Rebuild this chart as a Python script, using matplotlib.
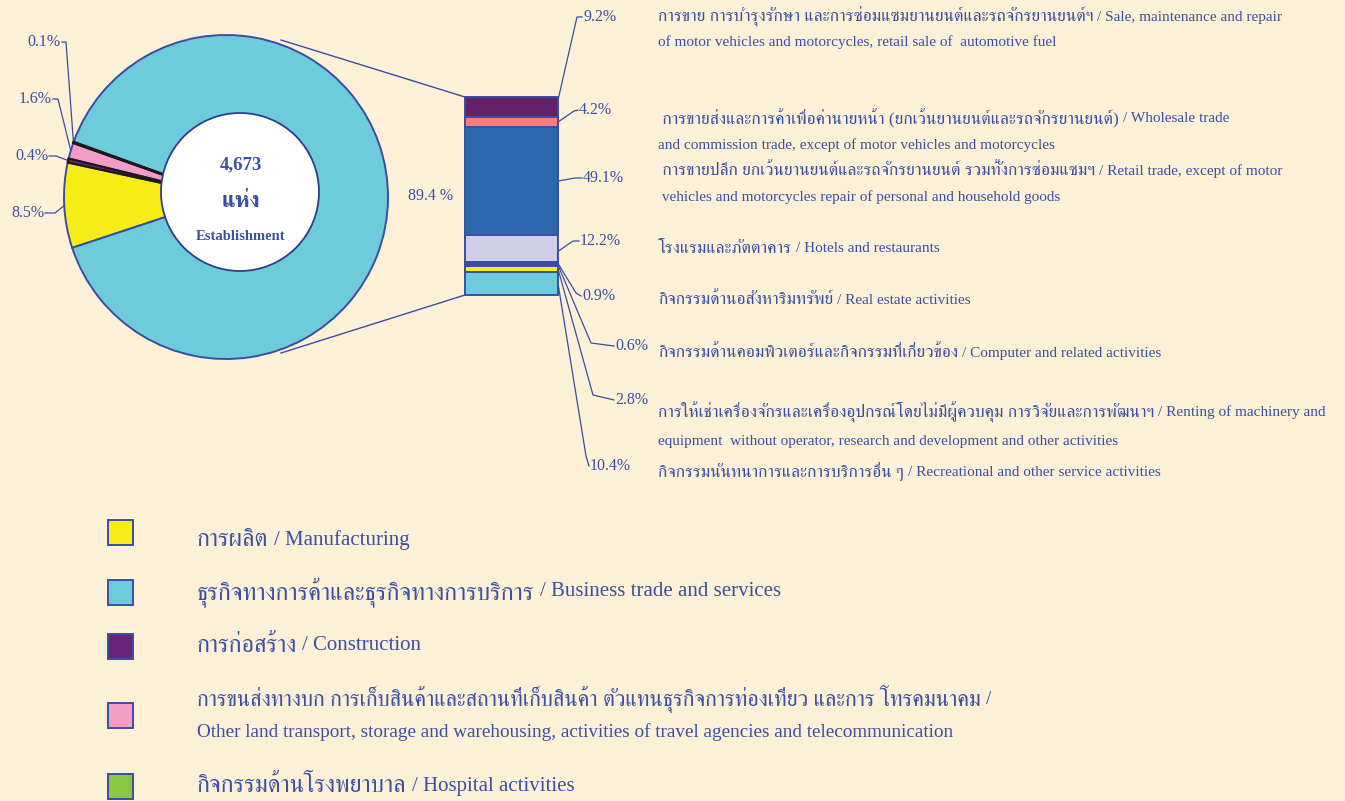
import matplotlib
matplotlib.use("Agg")
import numpy as np
import matplotlib.pyplot as plt
from matplotlib import font_manager
from matplotlib.ft2font import FT2Font
from matplotlib.patches import Circle, Rectangle

# ---- data ----
pie_labels = ["การผลิต / Manufacturing",
              "การก่อสร้าง / Construction",
              "การขนส่งทางบก / Transport",
              "กิจกรรมด้านโรงพยาบาล / Hospital activities",
              "ธุรกิจทางการค้าและธุรกิจทางการบริการ / Business trade and services"]
pie_values = [8.5, 0.4, 1.6, 0.1, 89.4]
pie_texts = ["8.5%", "0.4%", "1.6%", "0.1%", None]
pie_colors = ["#f6ec16", "#6a2379", "#f29cc6", "#8cc63f", "#6dcbdc"]

total_establishment = "4,673"

bar_values = [9.2, 4.2, 49.1, 12.2, 0.9, 0.6, 2.8, 10.4]
bar_texts = ["9.2%", "4.2%", "49.1%", "12.2%", "0.9%", "0.6%", "2.8%", "10.4%"]
bar_colors = ["#65206a", "#f37f80", "#2c68b0", "#d0cde7", "#231f20", "#30418f",
              "#f6ec16", "#6dcbdc"]
bar_total_text = "89.4 %"

bar_names = [
    ["การขาย การบำรุงรักษา และการซ่อมแซมยานยนต์และรถจักรยานยนต์ฯ / Sale, maintenance and repair",
     "of motor vehicles and motorcycles, retail sale of  automotive fuel"],
    [" การขายส่งและการค้าเพื่อค่านายหน้า (ยกเว้นยานยนต์และรถจักรยานยนต์) / Wholesale trade",
     "and commission trade, except of motor vehicles and motorcycles"],
    [" การขายปลีก ยกเว้นยานยนต์และรถจักรยานยนต์ รวมทั้งการซ่อมแซมฯ / Retail trade, except of motor",
     " vehicles and motorcycles repair of personal and household goods"],
    ["โรงแรมและภัตตาคาร / Hotels and restaurants"],
    ["กิจกรรมด้านอสังหาริมทรัพย์ / Real estate activities"],
    ["กิจกรรมด้านคอมพิวเตอร์และกิจกรรมที่เกี่ยวข้อง / Computer and related activities"],
    ["การให้เช่าเครื่องจักรและเครื่องอุปกรณ์โดยไม่มีผู้ควบคุม การวิจัยและการพัฒนาฯ / Renting of machinery and",
     "equipment  without operator, research and development and other activities"],
    ["กิจกรรมนันทนาการและการบริการอื่น ๆ / Recreational and other service activities"],
]

legend_names = [
    ["การผลิต / Manufacturing"],
    ["ธุรกิจทางการค้าและธุรกิจทางการบริการ / Business trade and services"],
    ["การก่อสร้าง / Construction"],
    ["การขนส่งทางบก การเก็บสินค้าและสถานที่เก็บสินค้า ตัวแทนธุรกิจการท่องเที่ยว และการ โทรคมนาคม /",
     "Other land transport, storage and warehousing, activities of travel agencies and telecommunication"],
    ["กิจกรรมด้านโรงพยาบาล / Hospital activities"],
]
legend_colors = ["#f6ec16", "#6dcbdc", "#6a2379", "#f29cc6", "#8cc63f"]


# find a font that can draw Thai
def find_thai_font():
    found = []
    for f in font_manager.fontManager.ttflist:
        try:
            if 0x0E01 in FT2Font(f.fname).get_charmap():
                found.append(f.name)
        except Exception:
            pass
    for pref in ("Serif", "Thai", ""):
        for n in found:
            if pref in n:
                return n
    return None

thai = find_thai_font()
fams = ["Liberation Serif"] + ([thai] if thai else []) + ["DejaVu Sans"]
plt.rcParams["font.family"] = fams

TXT = "#3c4fa6"
EDGE = "#3b4da3"
BG = "#fcf0d6"

fig = plt.figure(figsize=(13.45, 8.01), dpi=100, facecolor=BG)
ax = fig.add_axes([0, 0, 1, 1])
ax.set_facecolor(BG)
ax.set_xlim(0, 1345)
ax.set_ylim(801, 0)
renderer = fig.canvas.get_renderer()


def has_thai(s):
    return any("\u0e00" <= ch <= "\u0e7f" for ch in s)


# Thai part drawn bigger than the English part, like the original
def mixed_text(x, y, s, th_size, en_size):
    if not has_thai(s):
        ax.text(x, y, s, ha="left", va="center", fontsize=en_size, color=TXT)
        return
    if " / " in s:
        th, en = s.split(" / ", 1)
        en = "/ " + en
    elif s.endswith(" /"):
        th, en = s[:-2], "/"
    else:
        th, en = s, ""
    t = ax.text(x, y, th, ha="left", va="center", fontsize=th_size, color=TXT)
    if en:
        bb = t.get_window_extent(renderer)
        ax.text(x + bb.width + en_size * 0.35, y, en, ha="left", va="center",
                fontsize=en_size, color=TXT)


# ---- pie (y axis inverted, so angles run the other way) ----
cx, cy, R = 226, 197, 162
wedges, _ = ax.pie(pie_values, colors=pie_colors, startangle=161.7, counterclock=True,
                   center=(cx, cy), radius=R,
                   wedgeprops=dict(edgecolor=EDGE, linewidth=1.4))
wedges[1].set_edgecolor("#1a1a1a")
wedges[3].set_edgecolor("#1a1a1a")
wedges[1].set_linewidth(1.6)
wedges[3].set_linewidth(1.8)
wedges[1].set_zorder(3)
wedges[3].set_zorder(3)

ax.add_patch(Circle((240, 192), 79, facecolor="white", edgecolor="#2e3c8c", lw=1.3, zorder=4))
ax.text(241, 165, total_establishment, ha="center", va="center", fontsize=13.5,
        fontweight="bold", color=TXT, zorder=5)
ax.text(241, 202, "แห่ง", ha="center", va="center", fontsize=16,
        fontweight="bold", color=TXT, zorder=5)
ax.text(241, 236, "Establishment", ha="center", va="center", fontsize=10.5,
        fontweight="bold", color=TXT, zorder=5)

# pie percent labels with leader lines
pie_lab_pos = {0: (44, 213), 1: (48, 156), 2: (52, 99), 3: (61, 42)}
pie_hook = {0: 55, 1: 56, 2: 58, 3: 66}
for i, w in enumerate(wedges):
    if pie_texts[i] is None:
        continue
    ang = np.deg2rad((w.theta1 + w.theta2) / 2)
    ex, ey = cx + R * np.cos(ang), cy + R * np.sin(ang)
    tx, ty = pie_lab_pos[i]
    ax.text(tx, ty, pie_texts[i], ha="right", va="center", fontsize=11.5, color=TXT)
    ax.plot([tx + 1, pie_hook[i], ex], [ty, ty, ey], color=EDGE, lw=0.9)

# ---- stacked bar ----
bx, bw = 511.5, 93
top, bottom = 97, 295
k = (bottom - top) / sum(bar_values)
y0 = top
seg = []
for v, c in zip(bar_values, bar_colors):
    h = v * k
    ax.bar(bx, h, bottom=y0, width=bw, color=c, edgecolor=EDGE, linewidth=1.4, zorder=3)
    seg.append((y0, y0 + h))
    y0 += h

ax.text(431, 196, bar_total_text, ha="center", va="center", fontsize=11.5, color=TXT)

# connector lines pie -> bar
ax.plot([281, bx - bw / 2], [40, top], color=EDGE, lw=1.0)
ax.plot([281, bx - bw / 2], [353, bottom], color=EDGE, lw=1.0)

# bar percent labels
bar_lab = [(583, 17), (579, 110), (583, 178), (580, 241),
           (582, 296), (615, 346), (615, 400), (590, 466)]
bar_bend = [(577, 17), (574, 111), (575, 178), (573, 241),
            (576, 293), (591, 343), (593, 395), (586, 456)]
bar_start = [seg[0][0] + 3, None, None, seg[3][0] + 16, None, None, None, None]
xr = bx + bw / 2
for i, t in enumerate(bar_texts):
    sy = bar_start[i] if bar_start[i] is not None else (seg[i][0] + seg[i][1]) / 2
    tx, ty = bar_lab[i]
    mx, my = bar_bend[i]
    ax.plot([xr, mx, tx - 1], [sy, my, ty], color=EDGE, lw=0.9, zorder=2)
    ax.text(tx, ty, t, ha="left", va="center", fontsize=11.5, color=TXT)

# bar category names
name_pos = [(658, [17, 42]), (658, [119, 145]), (658, [171, 197]), (658, [249]),
            (658, [300]), (658, [353]), (658, [412, 441]), (658, [472])]
for lines, (x, ys) in zip(bar_names, name_pos):
    for ln, y in zip(lines, ys):
        mixed_text(x, y, ln, 12.6, 11)

# ---- legend ----
leg_box_y = [532, 592, 646, 715, 786]
leg_text_y = [[540], [592], [646], [699, 732], [786]]
leg_sizes = [(17.4, 15), (17.4, 15), (17.4, 15), (15.8, 13.8), (17.4, 15)]
for c, by, lines, tys, (ts, es) in zip(legend_colors, leg_box_y, legend_names,
                                       leg_text_y, leg_sizes):
    ax.add_patch(Rectangle((108, by - 12.5), 25, 25, facecolor=c, edgecolor=EDGE, lw=1.4))
    for ln, ty in zip(lines, tys):
        mixed_text(197, ty, ln, ts, es)

ax.set_xlim(0, 1345)
ax.set_ylim(801, 0)
ax.set_aspect("equal")
ax.axis("off")

fig.savefig("out.png", dpi=100, facecolor=BG)
